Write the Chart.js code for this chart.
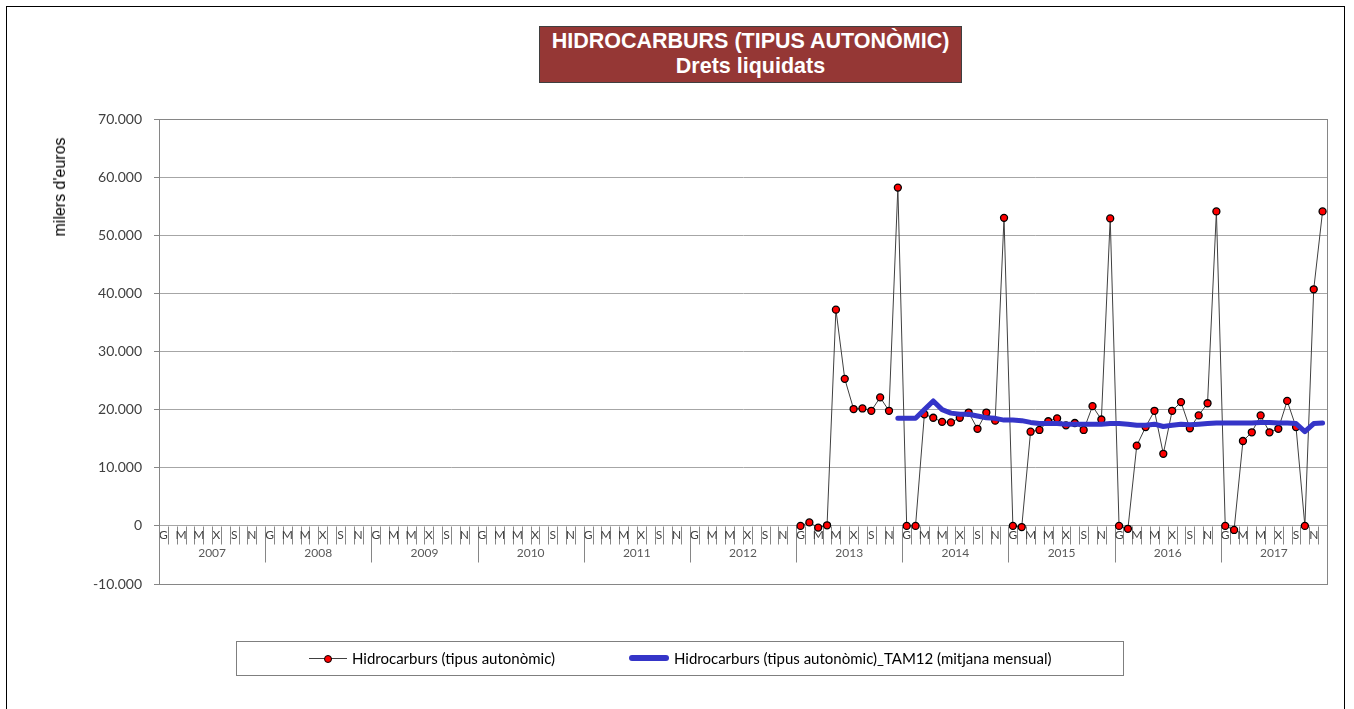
<!DOCTYPE html>
<html>
<head>
<meta charset="utf-8">
<script src="https://cdn.jsdelivr.net/npm/chart.js@4/dist/chart.umd.min.js"></script>
<style>
  body { margin: 0; background: #fff; }
  #wrap { position: relative; width: 1354px; height: 709px; overflow: hidden; }
  #frame { position: absolute; left: 6px; top: 6px; width: 1337px; height: 720px; border: 1px solid #000; }
  #title {
    position: absolute; left: 539px; top: 26px; width: 423px; height: 57px;
    background: #953735; border: 1px solid #3f3f3f; color: #fff;
    font: bold 21.5px "Liberation Sans", Arial, sans-serif; text-align: center; line-height: 25px;
    padding-top: 2px; box-sizing: border-box;
  }
  #ytitle {
    position: absolute; left: 60px; top: 187px; transform: translate(-50%, -50%) rotate(-90deg);
    font: 16px "Liberation Sans", Arial, sans-serif; color: #000; white-space: nowrap;
  }
  #legend {
    position: absolute; left: 236px; top: 641px; width: 888px; height: 35px; box-sizing: border-box;
    border: 1px solid #7f7f7f; font: 15px Lato, sans-serif; color: #000;
  }
  .item { position: absolute; top: 0; height: 33px; line-height: 33px; white-space: nowrap; }
  .thin { position: absolute; top: 16px; height: 1px; background: #404040; }
  .dot { position: absolute; top: 13px; width: 6px; height: 6px; border-radius: 50%; background: #f00; border: 1px solid #000; }
  .thick { position: absolute; top: 13px; height: 6px; border-radius: 3px; background: #3535c8; }
  canvas { position: absolute; left: 0; top: 0; }
</style>
</head>
<body>
<div id="wrap">
  <div id="frame"></div>
  <canvas id="chart" width="1354" height="709"></canvas>
  <div id="title">HIDROCARBURS (TIPUS AUTONÒMIC)<br>Drets liquidats</div>
  <div id="ytitle">milers d'euros</div>
  <div id="legend">
    <div class="thin" style="left:72px;width:38px"></div>
    <div class="dot" style="left:87px"></div>
    <div class="item" style="left:115px">Hidrocarburs (tipus autonòmic)</div>
    <div class="thick" style="left:392px;width:40px"></div>
    <div class="item" style="left:437px">Hidrocarburs (tipus autonòmic)_TAM12 (mitjana mensual)</div>
  </div>
</div>
<script>
// categories: 11 years x 12 months
const years = ['2007', '2008', '2009', '2010', '2011', '2012', '2013', '2014', '2015', '2016', '2017'];
const months = ['G', 'F', 'M', 'A', 'M', 'J', 'X', 'A', 'S', 'O', 'N', 'D'];
const yTicks = [-10000, 0, 10000, 20000, 30000, 40000, 50000, 60000, 70000];

// monthly values (thousand euros), series starts January 2013
const hidro2013 = [0, 600, -300, 100, 37200, 25300, 20100, 20200, 19800, 22100, 19800, 58200];
const hidro2014 = [0, 0, 19200, 18600, 17900, 17800, 18600, 19500, 16700, 19500, 18100, 53000];
const hidro2015 = [0, -200, 16200, 16500, 18000, 18500, 17300, 17700, 16500, 20600, 18300, 52900];
const hidro2016 = [0, -500, 13800, 17000, 19800, 12400, 19800, 21300, 16800, 19000, 21100, 54100];
const hidro2017 = [0, -700, 14600, 16100, 19000, 16100, 16700, 21500, 17000, 0, 40700, 54100];

// TAM12 (12-month moving average), starts December 2013
const tam2013 = [18500];
const tam2014 = [18500, 18500, 20000, 21500, 20000, 19400, 19200, 19200, 18900, 18600, 18500, 18200];
const tam2015 = [18200, 18100, 17800, 17600, 17600, 17600, 17500, 17500, 17500, 17500, 17500, 17600];
const tam2016 = [17600, 17500, 17300, 17300, 17500, 17100, 17300, 17500, 17400, 17500, 17600, 17700];
const tam2017 = [17700, 17700, 17700, 17700, 17800, 17800, 17700, 17700, 17600, 16200, 17600, 17700];

const labels = [];
years.forEach(y => months.forEach(m => labels.push(y + '-' + m)));

const lead = labels.length - 60;
const hidro = Array(lead).fill(null).concat(hidro2013, hidro2014, hidro2015, hidro2016, hidro2017);
const tam12 = Array(lead + 11).fill(null).concat(tam2013, tam2014, tam2015, tam2016, tam2017);

function fmt(v) {
  const s = String(Math.abs(v)).replace(/\B(?=(\d{3})+(?!\d))/g, '.');
  return (v < 0 ? '-' : '') + s;
}

// month / year category axis drawn along the zero line
const catAxis = {
  id: 'catAxis',
  beforeDatasetsDraw(chart) {
    const { ctx, scales } = chart;
    const x = scales.x, y = scales.y;
    const y0 = Math.round(y.getPixelForValue(0)) + 0.5;
    const step = x.getPixelForValue(1) - x.getPixelForValue(0);
    ctx.save();
    ctx.strokeStyle = '#868686';
    ctx.lineWidth = 1;
    ctx.beginPath();
    for (let i = 1; i < labels.length; i++) {
      const px = Math.round(x.getPixelForValue(i) - step / 2) + 0.5;
      ctx.moveTo(px, y0);
      ctx.lineTo(px, y0 + (i % 12 === 0 ? 36 : 18));
    }
    ctx.stroke();
    ctx.fillStyle = '#404040';
    ctx.textAlign = 'center';
    ctx.textBaseline = 'middle';
    ctx.font = '12px Lato, sans-serif';
    labels.forEach((l, i) => {
      if (i % 2 === 0) ctx.fillText(months[i % 12], x.getPixelForValue(i), y0 + 9);
    });
    ctx.fillStyle = '#595959';
    years.forEach((yr, k) => {
      const a = x.getPixelForValue(k * 12), b = x.getPixelForValue(k * 12 + 11);
      ctx.fillText(yr, (a + b) / 2, y0 + 27);
    });
    ctx.restore();
  },
  afterDraw(chart) {
    const { ctx, chartArea } = chart;
    ctx.save();
    ctx.strokeStyle = '#868686';
    ctx.lineWidth = 1;
    ctx.strokeRect(Math.round(chartArea.left) + 0.5, Math.round(chartArea.top) + 0.5,
      Math.round(chartArea.width), Math.round(chartArea.height));
    ctx.restore();
  }
};

window.addEventListener('DOMContentLoaded', () => {
  new Chart(document.getElementById('chart'), {
    type: 'line',
    data: {
      labels,
      datasets: [
        {
          label: 'Hidrocarburs (tipus autonòmic)', data: hidro, order: 1,
          borderColor: '#404040', borderWidth: 1, tension: 0,
          pointRadius: 3.5, pointBackgroundColor: '#ff0000', pointBorderColor: '#000', pointBorderWidth: 1.3
        },
        {
          label: 'Hidrocarburs (tipus autonòmic)_TAM12 (mitjana mensual)', data: tam12, order: 0,
          borderColor: '#3535c8', borderWidth: 5, tension: 0, pointRadius: 0,
          borderCapStyle: 'round', borderJoinStyle: 'round'
        }
      ]
    },
    options: {
      responsive: false,
      animation: false,
      devicePixelRatio: 1,
      layout: { padding: { left: 0, top: 119, right: 27, bottom: 125 } },
      plugins: { legend: { display: false }, title: { display: false }, tooltip: { enabled: false } },
      scales: {
        x: { display: false, offset: true },
        y: {
          min: -10000, max: 70000,
          afterFit: s => { s.width = 159; },
          afterBuildTicks: s => { s.ticks = yTicks.map(v => ({ value: v })); },
          grid: { color: '#a6a6a6', tickLength: 5, tickColor: '#868686' },
          border: { color: '#868686' },
          ticks: { padding: 12, color: '#404040', font: { family: 'Lato', size: 14 }, callback: v => fmt(v) }
        }
      }
    },
    plugins: [catAxis]
  });
});
</script>
</body>
</html>
